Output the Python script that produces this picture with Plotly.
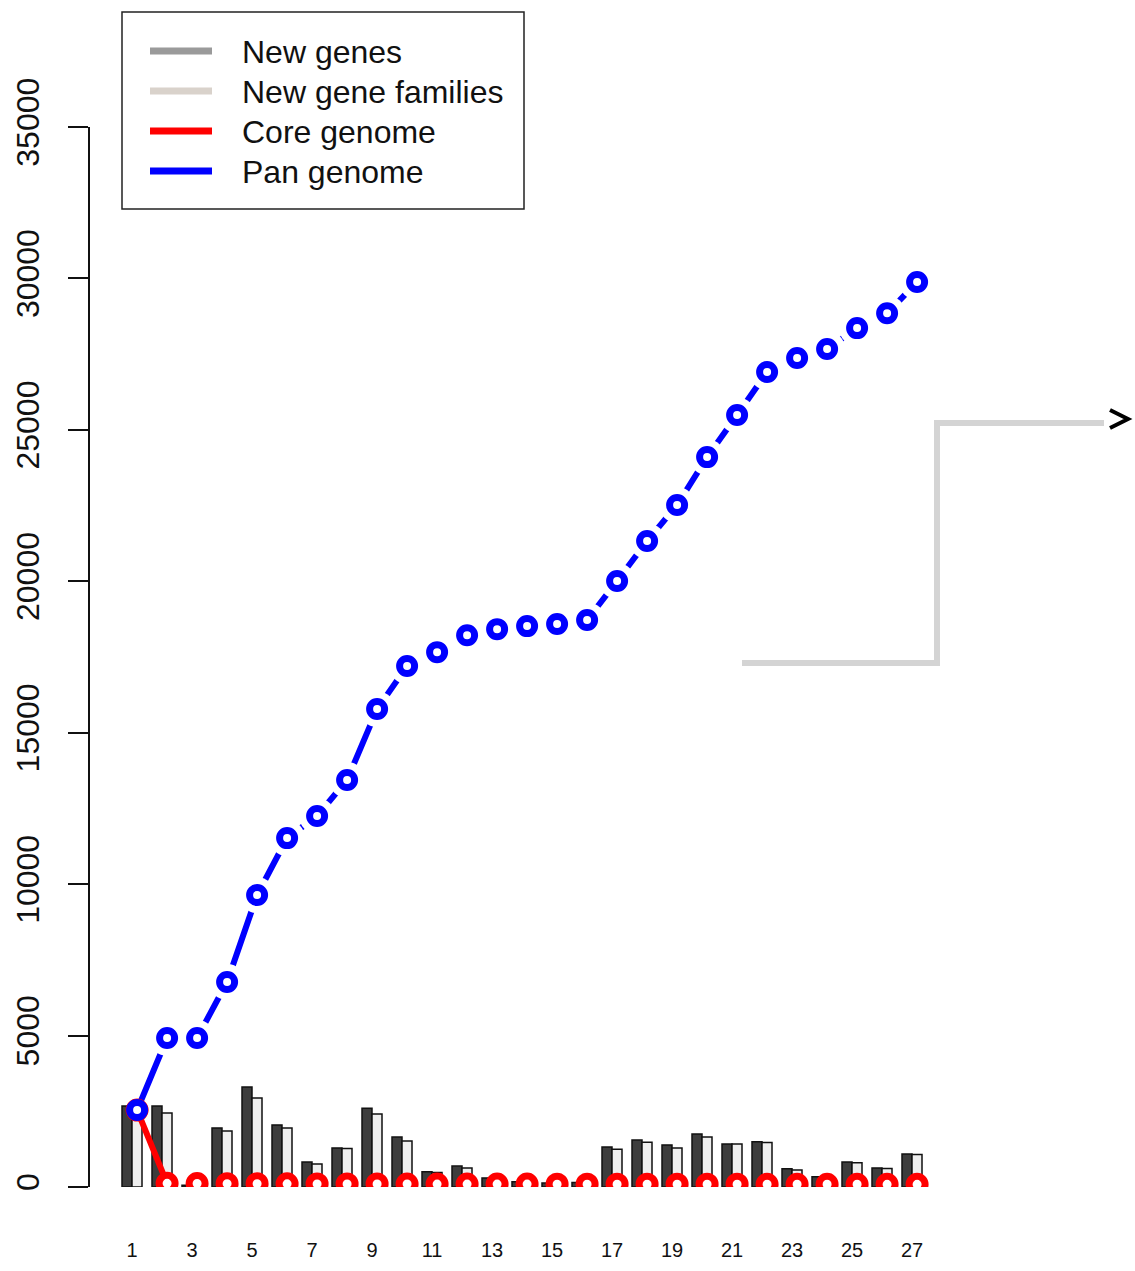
import plotly.graph_objects as go

# ---------------- data ----------------
genomes = list(range(1, 28))
x_tick_labels = [str(i) for i in range(1, 28, 2)]
new_genes = [2674, 2674, 60, 1950, 3300, 2050, 825, 1290, 2600, 1650, 500, 690, 300, 170,
             130, 150, 1320, 1550, 1390, 1750, 1420, 1490, 600, 340, 825, 630, 1090]
new_gene_families = [2650, 2440, 20, 1850, 2940, 1950, 760, 1270, 2410, 1520, 480, 630, 280, 150,
                     100, 130, 1250, 1480, 1290, 1650, 1420, 1470, 560, 320, 800, 610, 1070]
pan_genome = [2540, 4920, 4920, 6770, 9640, 11520, 12250, 13440, 15780, 17200, 17660, 18220,
              18420, 18520, 18590, 18720, 20010, 21330, 22520, 24100, 25490, 26910, 27370,
              27670, 28360, 28850, 29880]
core_genome = [2540, 120, 115, 110, 108, 105, 103, 100, 100, 98, 97, 96, 95, 95, 94, 94, 93,
               92, 92, 91, 91, 90, 90, 89, 89, 88, 88]
y_ticks = [0, 5000, 10000, 15000, 20000, 25000, 30000, 35000]
legend_labels = ["New genes", "New gene families", "Core genome", "Pan genome"]

# ---------------- style ----------------
W, H = 1135, 1271
ML, MR, MT, MB = 90, 195, 127, 84
PW, PH = W - ML - MR, H - MT - MB
FONT = "Liberation Sans, Arial, sans-serif"
POINT_OFFSET = 0.17
BLUE, RED = "#0000ff", "#ff0000"
legend_colors = ["#9a9a9a", "#d9d2cb", RED, BLUE]

def px(xp):
    return (xp - ML) / PW

def py(yp):
    return (H - MB - yp) / PH

pts_x = [g + POINT_OFFSET for g in genomes]

fig = go.Figure()
fig.add_trace(go.Bar(x=genomes, y=new_genes, name="New genes",
                     marker=dict(color="#3d3d3d", line=dict(color="#111111", width=1.5))))
fig.add_trace(go.Bar(x=genomes, y=new_gene_families, name="New gene families",
                     marker=dict(color="#eeeeee", line=dict(color="#111111", width=1.5))))

# pan genome (type="b" style: line with gaps around points)
fig.add_trace(go.Scatter(x=pts_x, y=pan_genome, mode="lines",
                         line=dict(color=BLUE, width=6), hoverinfo="skip"))
fig.add_trace(go.Scatter(x=pts_x[1:], y=pan_genome[1:], mode="markers",
                         marker=dict(symbol="circle", size=36, color="white", line=dict(width=0)),
                         hoverinfo="skip"))
# core genome
fig.add_trace(go.Scatter(x=pts_x[:2], y=core_genome[:2], mode="lines",
                         line=dict(color=RED, width=6), hoverinfo="skip"))
fig.add_trace(go.Scatter(x=pts_x, y=core_genome, mode="markers", name="Core genome",
                         marker=dict(symbol="circle", size=16, color="white",
                                     line=dict(color=RED, width=7))))
fig.add_trace(go.Scatter(x=pts_x, y=pan_genome, mode="markers", name="Pan genome",
                         marker=dict(symbol="circle", size=15, color="white",
                                     line=dict(color=BLUE, width=7))))

shapes = []
annotations = []
# manual legend
shapes.append(dict(type="rect", xref="paper", yref="paper", x0=px(122), x1=px(524),
                   y0=py(12), y1=py(209), line=dict(color="#222222", width=1.5),
                   fillcolor="white", layer="above"))
for i, (lab, col) in enumerate(zip(legend_labels, legend_colors)):
    yy = 51 + 40 * i
    shapes.append(dict(type="line", xref="paper", yref="paper", x0=px(150), x1=px(212),
                       y0=py(yy), y1=py(yy), line=dict(color=col, width=7), layer="above"))
    annotations.append(dict(text=lab, xref="paper", yref="paper", x=px(240), y=py(yy + 1),
                            xanchor="left", yanchor="middle", showarrow=False,
                            font=dict(family=FONT, size=32, color="#111111")))

# gray step connector with arrowhead (overlay on the right)
shapes.append(dict(type="path", xref="paper", yref="paper",
                   path=f"M {px(742)} {py(663)} L {px(937)} {py(663)} L {px(937)} {py(423)} L {px(1104)} {py(423)}",
                   line=dict(color="#d4d4d4", width=6)))
shapes.append(dict(type="path", xref="paper", yref="paper",
                   path=f"M {px(1110)} {py(410)} L {px(1128)} {py(419)} L {px(1110)} {py(428)}",
                   line=dict(color="#000000", width=4)))

fig.update_layout(
    width=W, height=H,
    margin=dict(l=ML, r=MR, t=MT, b=MB, autoexpand=False),
    paper_bgcolor="white", plot_bgcolor="white",
    barmode="group", bargap=1/3, bargroupgap=0,
    showlegend=False,
    shapes=shapes, annotations=annotations,
    font=dict(family=FONT, color="#111111"),
)
fig.update_xaxes(range=[-0.4, -0.4 + PW / 30], tickvals=list(range(1, 28, 2)),
                 ticktext=x_tick_labels, showline=False, ticks="", showgrid=False,
                 zeroline=False, tickfont=dict(size=20, family=FONT), ticklabelstandoff=49)
fig.update_yaxes(range=[0, 35000], tickvals=y_ticks, ticktext=[str(v) for v in y_ticks],
                 showline=True, linecolor="#111111", linewidth=1.5,
                 ticks="outside", ticklen=20, tickwidth=1.5, tickcolor="#111111",
                 showgrid=False, zeroline=False, tickangle=-90,
                 tickfont=dict(size=32, family=FONT), ticklabelstandoff=16)

fig.write_html("out.html", config={"displayModeBar": False},
               post_script="document.body.style.margin='0px';document.body.style.overflow='hidden';")
